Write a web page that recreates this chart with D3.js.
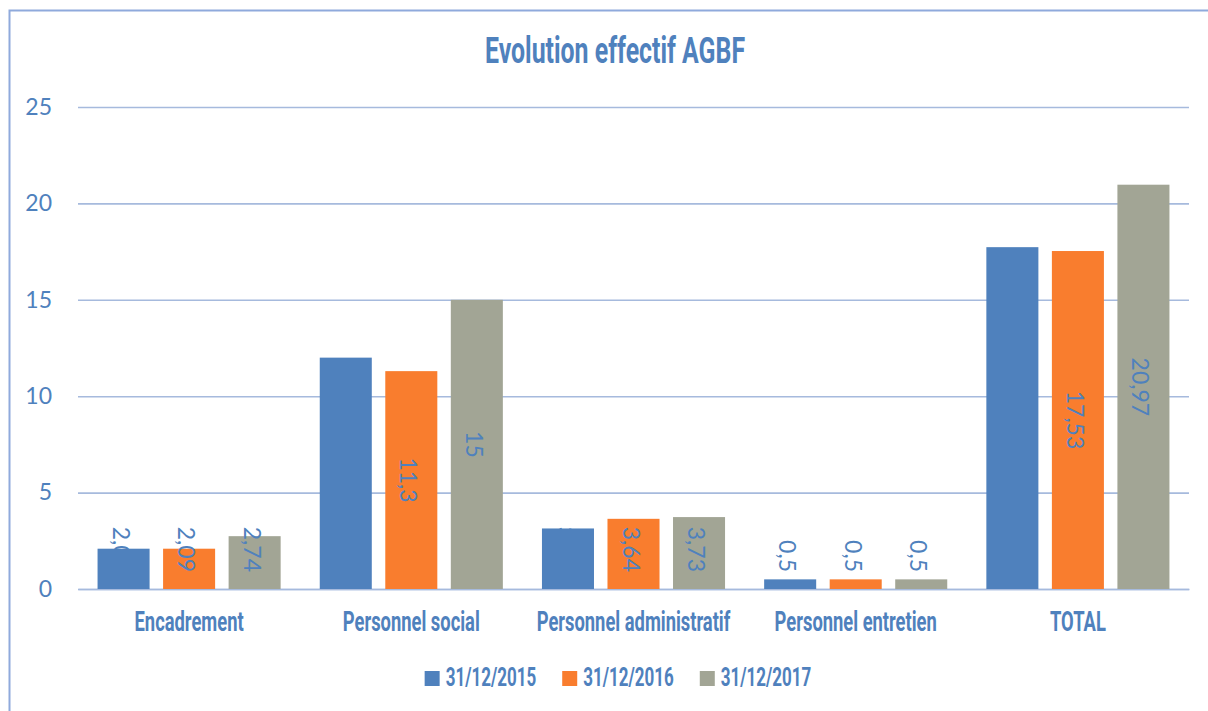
<!DOCTYPE html>
<html>
<head>
<meta charset="utf-8">
<script src="https://cdn.jsdelivr.net/npm/d3@7/dist/d3.min.js"></script>
<style>
  html, body { margin: 0; padding: 0; background: #ffffff; }
  svg { display: block; }
</style>
</head>
<body>
<svg id="chart" width="1208" height="711"></svg>
<script>
// Staff headcount (ETP) per category, at three year-end dates
const categories = ["Encadrement", "Personnel social", "Personnel administratif", "Personnel entretien", "TOTAL"];
const seriesNames = ["31/12/2015", "31/12/2016", "31/12/2017"];
const values2015 = [2.09, 12, 3.14, 0.5, 17.73];
const values2016 = [2.09, 11.3, 3.64, 0.5, 17.53];
const values2017 = [2.74, 15, 3.73, 0.5, 20.97];
const yTickValues = [0, 5, 10, 15, 20, 25];

const seriesValues = [values2015, values2016, values2017];
const colors = ["#4F81BD", "#F97D2E", "#A2A595"];
const textBlue = "#4F81BD";
const gridColor = "#A6BADD";

const svg = d3.select("#chart");
const W = 1208, H = 711;
const plot = { left: 78, right: 1189, top: 107, bottom: 589 };
const centerX = 615;

// Outer chart frame (runs past the window on the right and bottom)
svg.append("rect")
  .attr("x", 9.5).attr("y", 10.5)
  .attr("width", W + 20).attr("height", H + 20)
  .attr("fill", "none")
  .attr("stroke", "#8FAADC")
  .attr("stroke-width", 2);

const x0 = d3.scaleBand().domain(categories).range([plot.left, plot.right]).padding(0);
const x1 = d3.scaleBand().domain(seriesNames)
  .range([x0.bandwidth() * 0.088, x0.bandwidth() * 0.912])
  .paddingInner(0.206).paddingOuter(0);
const y = d3.scaleLinear().domain([0, 25]).range([plot.bottom, plot.top]);

// Horizontal gridlines
const yAxis = d3.axisLeft(y).tickValues(yTickValues)
  .tickSize(-(plot.right - plot.left)).tickPadding(26).tickFormat(d3.format("d"));
const gy = svg.append("g").attr("transform", `translate(${plot.left},0)`).call(yAxis);
gy.select(".domain").remove();
gy.selectAll(".tick line").attr("stroke", gridColor).attr("stroke-width", 1.6);
gy.selectAll(".tick text")
  .attr("fill", textBlue)
  .style("font-family", "Lato, 'Liberation Sans', sans-serif")
  .style("font-size", "23px");

// Category axis line
const xAxis = d3.axisBottom(x0).tickSize(0).tickPadding(0);
const gx = svg.append("g").attr("transform", `translate(0,${plot.bottom})`).call(xAxis);
gx.select(".domain").attr("stroke", gridColor).attr("stroke-width", 1.6);
gx.selectAll(".tick text").remove();

// Condensed bold text: a bold face squeezed horizontally around its anchor
function condensed(sel, size, squeeze) {
  sel.style("font-family", "Roboto, 'Liberation Sans', sans-serif")
    .style("font-weight", "700")
    .style("font-size", size + "px")
    .attr("fill", textBlue);
  sel.each(function () {
    const t = d3.select(this);
    const ax = +t.attr("x"), ay = +t.attr("y");
    t.attr("transform", `translate(${ax},${ay}) scale(${squeeze},1) translate(${-ax},${-ay})`);
  });
  return sel;
}

// Category labels
svg.append("g").selectAll("text").data(categories).join("text")
  .attr("x", d => x0(d) + x0.bandwidth() / 2)
  .attr("y", 631)
  .attr("text-anchor", "middle")
  .text(d => d)
  .call(condensed, 27, 0.68);

// Bars
const groups = svg.append("g").selectAll("g").data(seriesNames).join("g")
  .attr("fill", (d, i) => colors[i]);
groups.each(function (s, si) {
  d3.select(this).selectAll("rect").data(categories).join("rect")
    .attr("x", c => x0(c) + x1(s))
    .attr("width", x1.bandwidth())
    .attr("y", (c, ci) => y(seriesValues[si][ci]))
    .attr("height", (c, ci) => y(0) - y(seriesValues[si][ci]));
});

// Value labels, rotated, centred on the bar but kept clear of the axis
const fmt = v => String(v).replace(".", ",");
const labels = svg.append("g");
seriesNames.forEach((s, si) => {
  categories.forEach((c, ci) => {
    const v = seriesValues[si][ci];
    const cx = x0(c) + x1(s) + x1.bandwidth() / 2;
    const t = labels.append("text")
      .attr("text-anchor", "middle")
      .attr("dominant-baseline", "central")
      .attr("fill", textBlue)
      .style("font-family", "Lato, 'Liberation Sans', sans-serif")
      .style("font-size", "23px")
      .text(fmt(v));
    const len = t.node().getComputedTextLength();
    let cy = (y(v) + y(0)) / 2;
    cy = Math.min(cy, y(0) - 17 - len / 2);
    t.attr("transform", `translate(${cx - 2},${cy}) rotate(90)`);
  });
});

// Title
svg.append("text")
  .attr("x", centerX).attr("y", 63)
  .attr("text-anchor", "middle")
  .text("Evolution effectif AGBF")
  .call(condensed, 37, 0.672);

// Legend
const legend = svg.append("g");
const items = legend.selectAll("g").data(seriesNames).join("g");
items.append("rect")
  .attr("width", 15).attr("height", 15)
  .attr("y", 671)
  .attr("fill", (d, i) => colors[i]);
items.append("text")
  .attr("x", 21).attr("y", 686)
  .text(d => d)
  .call(condensed, 25, 0.68);
let widths = [];
items.each(function () { widths.push(this.getBBox().width); });
const gap = 26;
const total = d3.sum(widths) + gap * (widths.length - 1);
let xpos = centerX - total / 2 + 3;
items.each(function (d, i) {
  d3.select(this).attr("transform", `translate(${xpos},0)`);
  xpos += widths[i] + gap;
});
</script>
</body>
</html>
